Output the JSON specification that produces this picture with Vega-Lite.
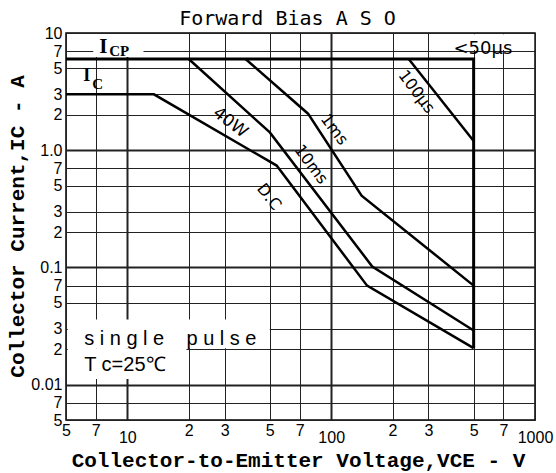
{
  "$schema": "https://vega.github.io/schema/vega-lite/v6.json",
  "width": 469,
  "height": 387,
  "autosize": {"type": "none"},
  "padding": {"left": 66, "top": 33, "right": 21, "bottom": 53},
  "background": "white",
  "title": {"text": "Forward Bias A S O", "font": "DejaVu Sans Mono", "fontSize": 20, "fontWeight": "normal", "color": "black", "dx": -13, "offset": -4, "anchor": "middle"},
  "config": {"view": {"stroke": "black", "strokeWidth": 1.5}},
  "datasets": {
    "curves": [
      {"curve": "bound", "k": 1, "v": 5, "i": 6},
      {"curve": "bound", "k": 2, "v": 500, "i": 6},
      {"curve": "bound", "k": 3, "v": 500, "i": 0.0205},
      {"curve": "dc", "k": 1, "v": 5, "i": 3},
      {"curve": "dc", "k": 2, "v": 13.5, "i": 3},
      {"curve": "dc", "k": 3, "v": 54, "i": 0.74},
      {"curve": "dc", "k": 4, "v": 150, "i": 0.07},
      {"curve": "dc", "k": 5, "v": 500, "i": 0.0205},
      {"curve": "10ms", "k": 1, "v": 20, "i": 6},
      {"curve": "10ms", "k": 2, "v": 50, "i": 1.42},
      {"curve": "10ms", "k": 3, "v": 159, "i": 0.102},
      {"curve": "10ms", "k": 4, "v": 500, "i": 0.029},
      {"curve": "1ms", "k": 1, "v": 38, "i": 6},
      {"curve": "1ms", "k": 2, "v": 77, "i": 2.05},
      {"curve": "1ms", "k": 3, "v": 141, "i": 0.41},
      {"curve": "1ms", "k": 4, "v": 500, "i": 0.07},
      {"curve": "100us", "k": 1, "v": 240, "i": 6},
      {"curve": "100us", "k": 2, "v": 500, "i": 1.2}
    ],
    "masks": [
      {"v1": 5.1, "v2": 50, "i1": 0.0205, "i2": 0.036},
      {"v1": 5.1, "v2": 19.5, "i1": 0.0112, "i2": 0.0205},
      {"v1": 6.8, "v2": 12, "i1": 6.25, "i2": 9.8},
      {"v1": 320, "v2": 990, "i1": 7.15, "i2": 9.75}
    ],
    "labels": [
      {"name": "40W", "text": "40W", "v": 32, "i": 1.72},
      {"name": "DC", "text": "D.C", "v": 49.5, "i": 0.4},
      {"name": "10ms", "text": "10ms", "v": 79.6, "i": 0.755},
      {"name": "1ms", "text": "1ms", "v": 103.5, "i": 1.5},
      {"name": "100us", "text": "100µs", "v": 262, "i": 3.15},
      {"name": "lt50", "text": "<50µs", "v": 555, "i": 6.6},
      {"name": "Ibig", "text": "I", "v": 7.28, "i": 6.74},
      {"name": "CPsub", "text": "CP", "v": 8.15, "i": 6.41},
      {"name": "Imid", "text": "I", "v": 6.07, "i": 3.91},
      {"name": "Csub", "text": "C", "v": 6.73, "i": 3.33},
      {"name": "single", "text": "s i n g l e\u00a0\u00a0\u00a0\u00a0p u l s e", "v": 6.14, "i": 0.0246},
      {"name": "tc", "text": "T c=25℃", "v": 6.14, "i": 0.0146}
    ]
  },
  "layer": [
    {
      "data": {"name": "masks"},
      "mark": {"type": "rect", "fill": "white", "stroke": null},
      "encoding": {
        "x": {"field": "v1", "type": "quantitative",
          "scale": {"type": "log", "domain": [5, 1000], "nice": false},
          "axis": {
            "values": [5, 7, 10, 20, 30, 50, 70, 100, 200, 300, 500, 700, 1000],
            "labelExpr": "datum.value == 10 ? '10' : datum.value == 100 ? '100' : datum.value == 1000 ? '1000' : format(datum.value / pow(10, floor(log(datum.value) / LN10 + 1e-9)), '.0f')",
            "grid": true, "gridColor": "#222",
            "gridWidth": {"condition": {"test": "datum.value == 10 || datum.value == 100", "value": 2}, "value": 1},
            "ticks": false, "domain": false,
            "labelFont": "Liberation Sans", "labelFontSize": 16, "labelColor": "black",
            "labelBaseline": "top",
            "labelPadding": {"condition": {"test": "datum.value == 10 || datum.value == 100 || datum.value == 1000", "value": 9}, "value": 2},
            "labelFlush": false, "labelOverlap": false,
            "title": "Collector-to-Emitter Voltage,VCE - V",
            "titleFont": "Liberation Mono", "titleFontSize": 21, "titleFontWeight": "bold", "titleColor": "black",
            "titleY": 46, "titleBaseline": "alphabetic", "titleX": 232
          }
        },
        "x2": {"field": "v2"},
        "y": {"field": "i1", "type": "quantitative",
          "scale": {"type": "log", "domain": [0.005, 10], "nice": false},
          "axis": {
            "values": [0.005, 0.007, 0.01, 0.02, 0.03, 0.05, 0.07, 0.1, 0.2, 0.3, 0.5, 0.7, 1, 2, 3, 5, 7, 10],
            "labelExpr": "datum.value == 10 ? '10' : datum.value == 1 ? '1.0' : datum.value == 0.1 ? '0.1' : datum.value == 0.01 ? '0.01' : format(datum.value / pow(10, floor(log(datum.value) / LN10 + 1e-9)), '.0f')",
            "grid": true, "gridColor": "#222",
            "gridWidth": {"condition": {"test": "datum.value == 1 || datum.value == 0.1 || datum.value == 0.01", "value": 2}, "value": 1},
            "ticks": false, "domain": false,
            "labelFont": "Liberation Sans", "labelFontSize": 16, "labelColor": "black",
            "labelPadding": 4, "labelFlush": false, "labelOverlap": false,
            "title": "Collector Current,IC - A",
            "titleFont": "Liberation Mono", "titleFontSize": 21, "titleFontWeight": "bold", "titleColor": "black",
            "titleX": -49, "titleY": 193, "titleAngle": -90, "titleBaseline": "middle", "titleAlign": "center"
          }
        },
        "y2": {"field": "i2"}
      }
    },
    {
      "data": {"name": "curves"},
      "transform": [{"filter": "datum.curve != 'bound'"}],
      "mark": {"type": "line", "stroke": "black", "strokeWidth": 2.5, "strokeJoin": "miter"},
      "encoding": {
        "x": {"field": "v", "type": "quantitative"},
        "y": {"field": "i", "type": "quantitative"},
        "detail": {"field": "curve"},
        "order": {"field": "k"}
      }
    },
    {
      "data": {"name": "curves"},
      "transform": [{"filter": "datum.curve == 'bound'"}],
      "mark": {"type": "line", "stroke": "black", "strokeWidth": 3, "strokeJoin": "miter"},
      "encoding": {
        "x": {"field": "v", "type": "quantitative"},
        "y": {"field": "i", "type": "quantitative"},
        "detail": {"field": "curve"},
        "order": {"field": "k"}
      }
    },
    {
      "data": {"name": "labels"},
      "transform": [{"filter": "datum.name == '40W'"}],
      "mark": {"type": "text", "font": "DejaVu Sans", "fontSize": 17, "angle": 38, "align": "center", "baseline": "middle", "color": "black"},
      "encoding": {"x": {"field": "v", "type": "quantitative"}, "y": {"field": "i", "type": "quantitative"}, "text": {"field": "text"}}
    },
    {
      "data": {"name": "labels"},
      "transform": [{"filter": "datum.name == 'DC'"}],
      "mark": {"type": "text", "font": "DejaVu Sans", "fontSize": 16, "angle": 52, "align": "center", "baseline": "middle", "color": "black"},
      "encoding": {"x": {"field": "v", "type": "quantitative"}, "y": {"field": "i", "type": "quantitative"}, "text": {"field": "text"}}
    },
    {
      "data": {"name": "labels"},
      "transform": [{"filter": "datum.name == '10ms' || datum.name == '1ms' || datum.name == '100us'"}],
      "mark": {"type": "text", "font": "DejaVu Sans", "fontSize": 16, "angle": 53, "align": "center", "baseline": "middle", "color": "black"},
      "encoding": {"x": {"field": "v", "type": "quantitative"}, "y": {"field": "i", "type": "quantitative"}, "text": {"field": "text"}}
    },
    {
      "data": {"name": "labels"},
      "transform": [{"filter": "datum.name == 'lt50'"}],
      "mark": {"type": "text", "font": "DejaVu Sans", "fontSize": 18, "align": "center", "baseline": "alphabetic", "color": "black"},
      "encoding": {"x": {"field": "v", "type": "quantitative"}, "y": {"field": "i", "type": "quantitative"}, "text": {"field": "text"}}
    },
    {
      "data": {"name": "labels"},
      "transform": [{"filter": "datum.name == 'Ibig'"}],
      "mark": {"type": "text", "font": "Liberation Serif", "fontSize": 21, "fontWeight": "bold", "align": "left", "baseline": "alphabetic", "color": "black"},
      "encoding": {"x": {"field": "v", "type": "quantitative"}, "y": {"field": "i", "type": "quantitative"}, "text": {"field": "text"}}
    },
    {
      "data": {"name": "labels"},
      "transform": [{"filter": "datum.name == 'Imid'"}],
      "mark": {"type": "text", "font": "Liberation Serif", "fontSize": 18, "fontWeight": "bold", "align": "left", "baseline": "alphabetic", "color": "black"},
      "encoding": {"x": {"field": "v", "type": "quantitative"}, "y": {"field": "i", "type": "quantitative"}, "text": {"field": "text"}}
    },
    {
      "data": {"name": "labels"},
      "transform": [{"filter": "datum.name == 'CPsub' || datum.name == 'Csub'"}],
      "mark": {"type": "text", "font": "Liberation Serif", "fontSize": 15, "fontWeight": "bold", "align": "left", "baseline": "alphabetic", "color": "black"},
      "encoding": {"x": {"field": "v", "type": "quantitative"}, "y": {"field": "i", "type": "quantitative"}, "text": {"field": "text"}}
    },
    {
      "data": {"name": "labels"},
      "transform": [{"filter": "datum.name == 'single' || datum.name == 'tc'"}],
      "mark": {"type": "text", "font": "Liberation Sans", "fontSize": 20, "align": "left", "baseline": "middle", "color": "black"},
      "encoding": {"x": {"field": "v", "type": "quantitative"}, "y": {"field": "i", "type": "quantitative"}, "text": {"field": "text"}}
    }
  ]
}
